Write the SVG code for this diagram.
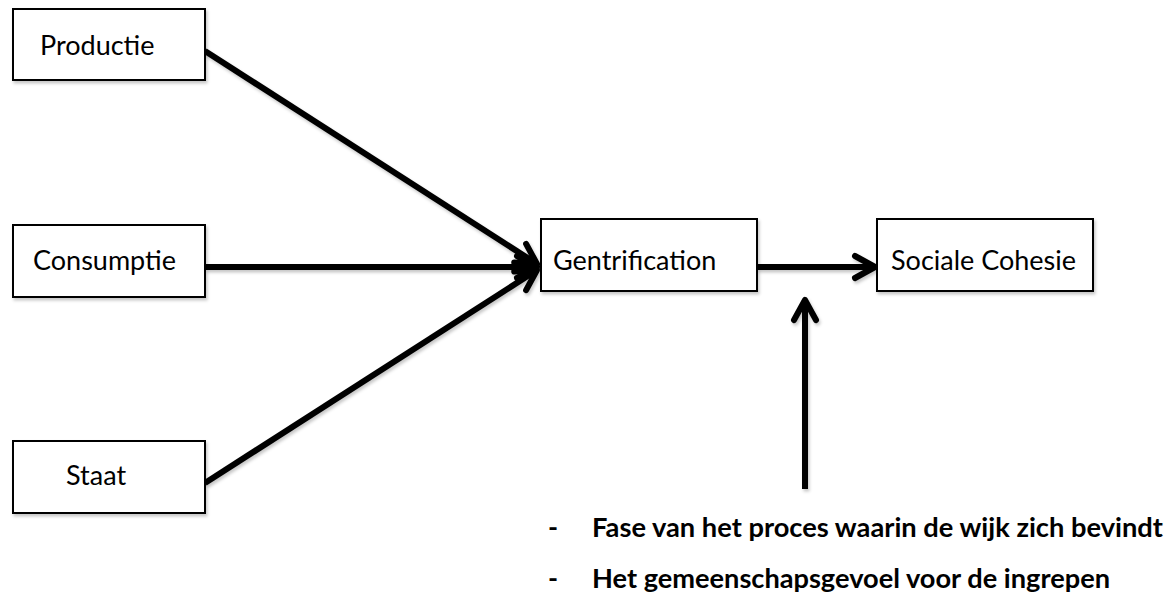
<svg xmlns="http://www.w3.org/2000/svg" width="1175" height="598" viewBox="0 0 1175 598">
  <defs>
    <filter id="shadow" x="-10%" y="-10%" width="130%" height="140%">
      <feDropShadow dx="1.5" dy="2.5" stdDeviation="1.8" flood-color="#000" flood-opacity="0.22"/>
    </filter>
    <filter id="line-shadow" filterUnits="userSpaceOnUse" x="0" y="0" width="1175" height="598">
      <feDropShadow dx="1.5" dy="2.5" stdDeviation="1.8" flood-color="#000" flood-opacity="0.22"/>
    </filter>
    <marker id="head" viewBox="0 0 32 32" refX="26" refY="16" markerWidth="32" markerHeight="32" markerUnits="userSpaceOnUse" orient="auto">
      <path d="M 6 5 L 26 16 L 6 27" fill="none" stroke="#000" stroke-width="6" stroke-linecap="round" stroke-linejoin="round"/>
    </marker>
    <style>
      .box { fill: #fff; stroke: #000; stroke-width: 2; filter: url(#shadow); }
      .label { font-family: Lato, Carlito, Calibri, sans-serif; font-size: 27px; fill: #000; }
      .note { font-family: Lato, Carlito, Calibri, sans-serif; font-size: 27px; font-weight: bold; fill: #000; }
      .edge { fill: none; stroke: #000; stroke-width: 6; marker-end: url(#head); }
    </style>
  </defs>

  <rect width="1175" height="598" fill="#fff"/>

  <g id="connectors" filter="url(#line-shadow)">
    <line class="edge" x1="205" y1="51" x2="537" y2="264"/>
    <line class="edge" x1="205" y1="267" x2="537" y2="267"/>
    <line class="edge" x1="205" y1="483" x2="537" y2="270"/>
    <line class="edge" x1="757" y1="267" x2="875" y2="267"/>
    <line class="edge" x1="805" y1="489" x2="805" y2="300"/>
  </g>

  <g id="productie">
    <rect class="box" x="13" y="9" width="192" height="71"/>
    <text class="label" x="40" y="55">Productie</text>
  </g>

  <g id="consumptie">
    <rect class="box" x="13" y="225" width="192" height="72"/>
    <text class="label" x="33" y="270">Consumptie</text>
  </g>

  <g id="staat">
    <rect class="box" x="13" y="441" width="192" height="72"/>
    <text class="label" x="66" y="485">Staat</text>
  </g>

  <g id="gentrification">
    <rect class="box" x="541" y="219" width="216" height="72"/>
    <text class="label" x="553" y="270">Gentrification</text>
  </g>

  <g id="sociale-cohesie">
    <rect class="box" x="877" y="219" width="216" height="72"/>
    <text class="label" x="891" y="270">Sociale Cohesie</text>
  </g>

  <g id="moderators">
    <text class="note" x="548" y="537">-</text>
    <text class="note" x="592" y="537" textLength="571" lengthAdjust="spacingAndGlyphs">Fase van het proces waarin de wijk zich bevindt</text>
    <text class="note" x="548" y="588">-</text>
    <text class="note" x="592" y="588" textLength="518" lengthAdjust="spacingAndGlyphs">Het gemeenschapsgevoel voor de ingrepen</text>
  </g>
</svg>
